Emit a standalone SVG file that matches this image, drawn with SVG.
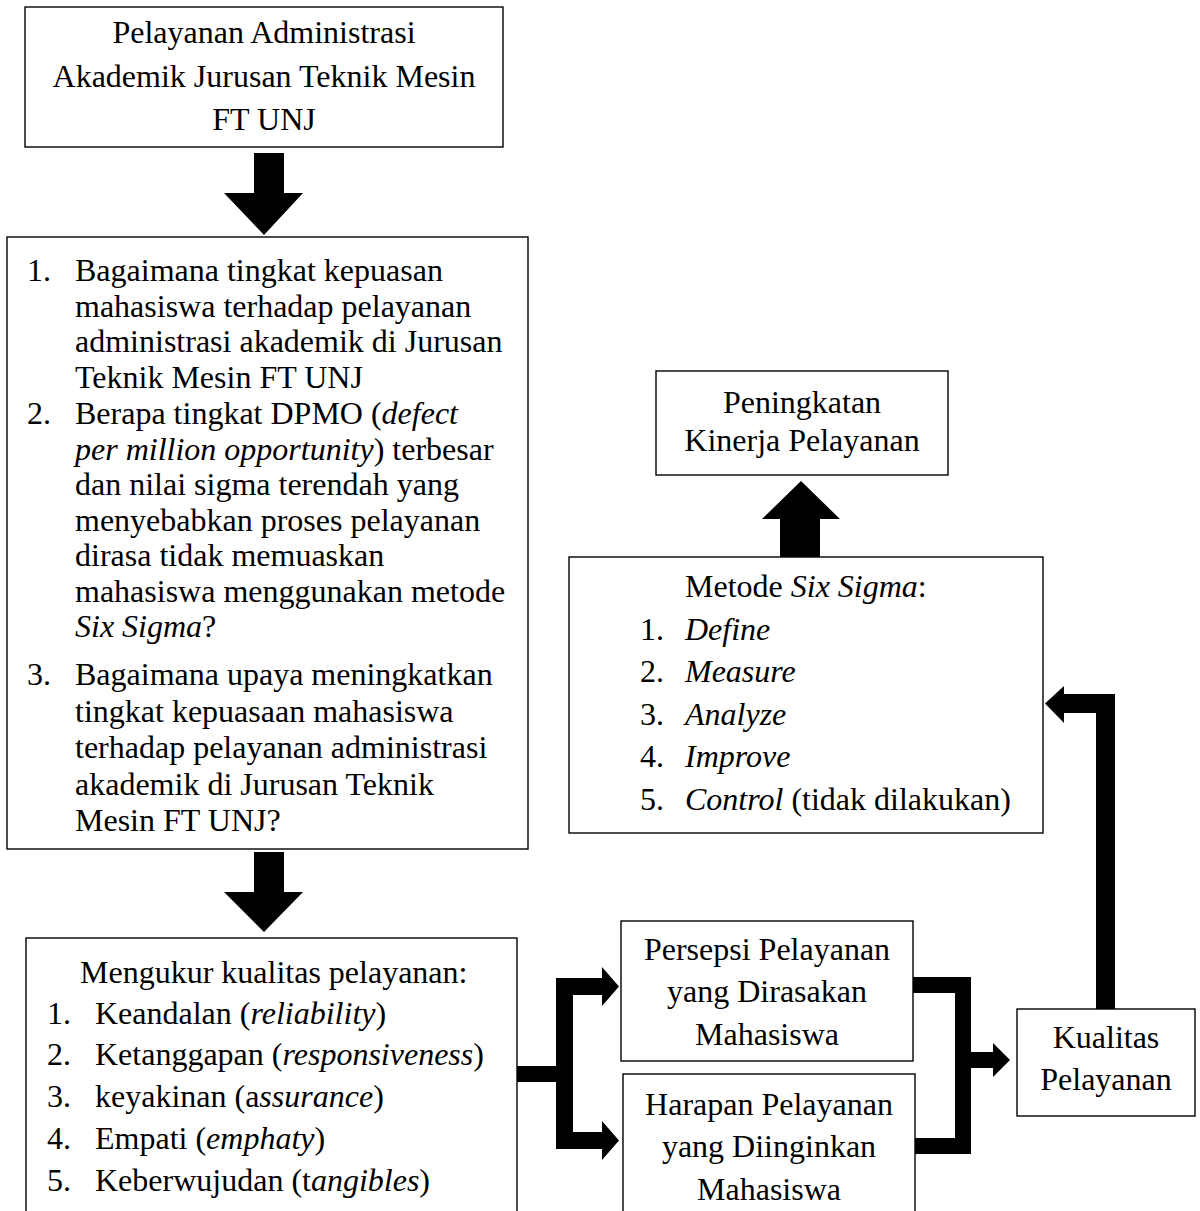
<svg xmlns="http://www.w3.org/2000/svg" width="1200" height="1211" viewBox="0 0 1200 1211">
<style>
.box{fill:#fff;stroke:#000;stroke-width:1.4}
.t{font-family:"Liberation Serif","Times New Roman",serif;font-size:32px;fill:#000}
.c{text-anchor:middle}
.i{font-style:italic}
.arr{fill:#000;stroke:none}
</style>
<rect width="1200" height="1211" fill="#fff"/>
<g id="connectors">
<path class="arr" d="M254,153 H284 V193 H303 L264,235 L224,193 H254 Z"/>
<path class="arr" d="M254,852 H284 V892 H303 L264,932 L224,892 H254 Z"/>
<path class="arr" d="M780,557 H820 V519 H840 L801,481 L762,519 H780 Z"/>
<path class="arr" d="M517,1066 H556 V978 H602 V967 L619,986.5 L602,1006 V995 H573 V1132 H602 V1121 L619,1140.5 L602,1160 V1149 H556 V1082 H517 Z"/>
<path class="arr" d="M913,977 H971 V1052 H993 V1043 L1010,1060 L993,1077 V1068 H971 V1154 H915 V1138 H955 V993 H913 Z"/>
<path class="arr" d="M1096,1009 V713 H1064 V723 L1045,703.5 L1064,686 V694 H1115 V1009 Z"/>
</g>
<g id="n1">
<rect class="box" x="25" y="7" width="478" height="140"/>
<text class="t c" x="264" y="43">Pelayanan Administrasi</text>
<text class="t c" x="264" y="87">Akademik Jurusan Teknik Mesin</text>
<text class="t c" x="264" y="130">FT UNJ</text>
</g>
<g id="n2">
<rect class="box" x="7" y="237" width="521" height="612"/>
<text class="t" x="27" y="281">1.</text>
<text class="t" x="75" y="281">Bagaimana tingkat kepuasan</text>
<text class="t" x="75" y="316.5">mahasiswa terhadap pelayanan</text>
<text class="t" x="75" y="352">administrasi akademik di Jurusan</text>
<text class="t" x="75" y="387.5">Teknik Mesin FT UNJ</text>
<text class="t" x="27" y="424">2.</text>
<text class="t" x="75" y="424">Berapa tingkat DPMO (<tspan class="i">defect</tspan></text>
<text class="t" x="75" y="459.5"><tspan class="i">per million opportunity</tspan>) terbesar</text>
<text class="t" x="75" y="495">dan nilai sigma terendah yang</text>
<text class="t" x="75" y="530.5">menyebabkan proses pelayanan</text>
<text class="t" x="75" y="566">dirasa tidak memuaskan</text>
<text class="t" x="75" y="601.5">mahasiswa menggunakan metode</text>
<text class="t" x="75" y="637"><tspan class="i">Six Sigma</tspan>?</text>
<text class="t" x="27" y="685">3.</text>
<text class="t" x="75" y="685">Bagaimana upaya meningkatkan</text>
<text class="t" x="75" y="721.5">tingkat kepuasaan mahasiswa</text>
<text class="t" x="75" y="758">terhadap pelayanan administrasi</text>
<text class="t" x="75" y="794.5">akademik di Jurusan Teknik</text>
<text class="t" x="75" y="831">Mesin FT UNJ?</text>
</g>
<g id="n3">
<rect class="box" x="26" y="938" width="491" height="290"/>
<text class="t" x="80" y="983">Mengukur kualitas pelayanan:</text>
<text class="t" x="47" y="1024">1.</text>
<text class="t" x="95" y="1024">Keandalan (<tspan class="i">reliability</tspan>)</text>
<text class="t" x="47" y="1065">2.</text>
<text class="t" x="95" y="1065">Ketanggapan (<tspan class="i">responsiveness</tspan>)</text>
<text class="t" x="47" y="1107">3.</text>
<text class="t" x="95" y="1107">keyakinan (a<tspan class="i">ssurance</tspan>)</text>
<text class="t" x="47" y="1149">4.</text>
<text class="t" x="95" y="1149">Empati (<tspan class="i">emphaty</tspan>)</text>
<text class="t" x="47" y="1191">5.</text>
<text class="t" x="95" y="1191">Keberwujudan (t<tspan class="i">angibles</tspan>)</text>
</g>
<g id="n4">
<rect class="box" x="656" y="371" width="292" height="104"/>
<text class="t c" x="802" y="413">Peningkatan</text>
<text class="t c" x="802" y="451">Kinerja Pelayanan</text>
</g>
<g id="n5">
<rect class="box" x="569" y="557" width="474" height="276"/>
<text class="t" x="685" y="597">Metode <tspan class="i">Six Sigma</tspan>:</text>
<text class="t" x="640" y="639.5">1.</text>
<text class="t i" x="685" y="639.5">Define</text>
<text class="t" x="640" y="682">2.</text>
<text class="t i" x="685" y="682">Measure</text>
<text class="t" x="640" y="724.5">3.</text>
<text class="t i" x="685" y="724.5">Analyze</text>
<text class="t" x="640" y="767">4.</text>
<text class="t i" x="685" y="767">Improve</text>
<text class="t" x="640" y="809.5">5.</text>
<text class="t" x="685" y="809.5"><tspan class="i">Control</tspan> (tidak dilakukan)</text>
</g>
<g id="n6">
<rect class="box" x="621" y="921" width="292" height="140"/>
<text class="t c" x="767" y="960">Persepsi Pelayanan</text>
<text class="t c" x="767" y="1002">yang Dirasakan</text>
<text class="t c" x="767" y="1045">Mahasiswa</text>
</g>
<g id="n7">
<rect class="box" x="623" y="1074" width="292" height="160"/>
<text class="t c" x="769" y="1115">Harapan Pelayanan</text>
<text class="t c" x="769" y="1157">yang Diinginkan</text>
<text class="t c" x="769" y="1200">Mahasiswa</text>
</g>
<g id="n8">
<rect class="box" x="1017" y="1009" width="178" height="107"/>
<text class="t c" x="1106" y="1048">Kualitas</text>
<text class="t c" x="1106" y="1090">Pelayanan</text>
</g>
</svg>
